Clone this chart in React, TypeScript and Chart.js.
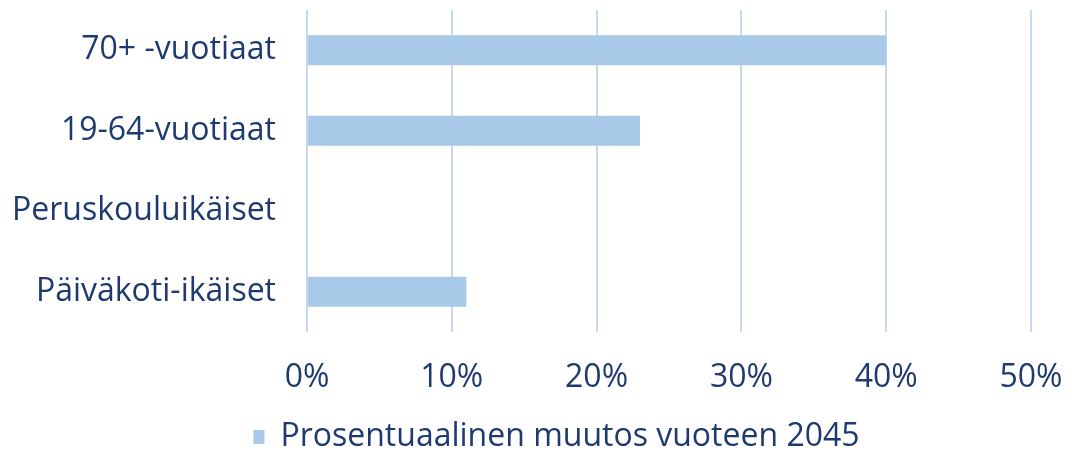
import React, { useEffect, useRef } from 'react';
import { Chart, registerables } from 'chart.js';

Chart.register(...registerables);

const categories = ['70+ -vuotiaat', '19-64-vuotiaat', 'Peruskouluikäiset', 'Päiväkoti-ikäiset'];
const values = [40, 23, 0, 11];
const seriesLabel = 'Prosentuaalinen muutos vuoteen 2045';
const xMin = 0;
const xMax = 50;
const xStep = 10;

const textColor = '#1E3A6E';
const barColor = '#A9C9E8';
const gridColor = '#C5D9F5';
const fontFamily = '"Open Sans", sans-serif';

export default function App() {
  const ref = useRef<HTMLCanvasElement>(null);

  useEffect(() => {
    const font = { family: fontFamily, size: 32 };
    const chart = new Chart(ref.current!, {
      type: 'bar',
      data: {
        labels: categories,
        datasets: [
          {
            label: seriesLabel,
            data: values,
            backgroundColor: barColor,
            borderWidth: 0,
            categoryPercentage: 0.5,
            barPercentage: 0.746,
            yAxisID: 'y',
          },
        ],
      },
      options: {
        indexAxis: 'y',
        responsive: false,
        animation: false,
        layout: { padding: { top: 10, left: 10, right: -20, bottom: -11 } },
        scales: {
          x: {
            min: xMin,
            max: xMax,
            ticks: {
              stepSize: xStep,
              callback: (v: any) => v + '%',
              color: textColor,
              font,
              padding: 0,
              maxRotation: 0,
            },
            grid: {
              color: gridColor,
              lineWidth: 2,
              drawTicks: true,
              tickLength: 27,
              tickColor: 'rgba(0,0,0,0)',
            },
            border: { display: false },
            afterFit: (s: any) => {
              s.height = 89;
            },
          },
          y: {
            position: 'left',
            grid: {
              display: true,
              drawOnChartArea: false,
              drawTicks: true,
              tickLength: 31,
              tickColor: 'rgba(0,0,0,0)',
            },
            border: { display: false },
            ticks: { color: textColor, font: { ...font, lineHeight: 0.6 }, padding: 0 },
            afterFit: (s: any) => {
              s.width = 297;
            },
          },
          yRight: {
            type: 'category',
            position: 'right',
            display: true,
            grid: { display: false },
            border: { display: false },
            ticks: { display: false },
            afterFit: (s: any) => {
              s.width = 72;
            },
          },
        },
        plugins: {
          legend: {
            position: 'bottom',
            labels: {
              boxWidth: 11,
              boxHeight: 14,
              color: textColor,
              font,
              padding: 0,
            },
          },
          tooltip: { enabled: false },
        },
      },
    });
    return () => chart.destroy();
  }, []);

  return (
    <div style={{ position: 'fixed', left: 0, top: 0, width: 1083, height: 452 }}>
      <canvas ref={ref} width={1083} height={452} style={{ width: 1083, height: 452 }} />
    </div>
  );
}
